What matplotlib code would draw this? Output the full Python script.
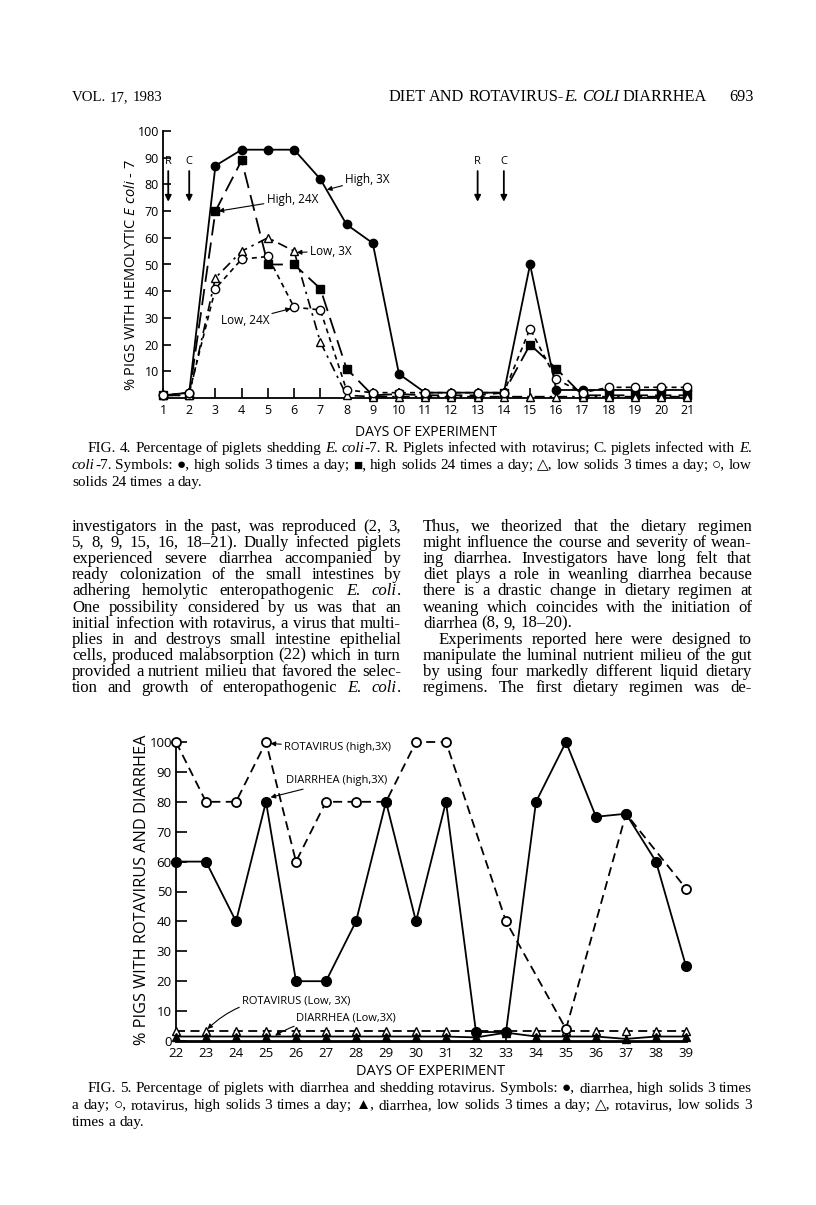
import matplotlib
matplotlib.use('Agg')
import matplotlib.pyplot as plt
from matplotlib.transforms import IdentityTransform

plt.rcParams['mathtext.fontset'] = 'custom'
plt.rcParams['mathtext.rm'] = 'Open Sans'
plt.rcParams['mathtext.it'] = 'Open Sans:italic'

# ---- Fig. 4 data: % pigs shedding hemolytic E. coli-7
days4 = list(range(1, 22))
high3 = [1, 2, 87, 93, 93, 93, 82, 65, 58, 9, 2, 2, 2, 2, 50, 3, 3, 3, 3, 3, 3]
high24 = [1, 1, 70, 89, 50, 50, 41, 11, 1, 1.5, 1, 1, 1, 2, 20, 11, 1, 1, 1, 1, 1]
low3 = [1, 1, 45, 55, 60, 55, 21, 1, 0.5, 0.5, 0.5, 0.5, 0.5, 0.5, 0.5, 0.5, 0.5, 0.5, 0.5, 0.5, 0.5]
low24 = [1, 2, 41, 52, 53, 34, 33, 3, 2, 2, 2, 2, 2, 2, 26, 7, 2, 4, 4, 4, 4]
inf_days = [1.2, 2, 13, 14]
inf_labels = ['R', 'C', 'R', 'C']

# ---- Fig. 5 data: % pigs with rotavirus and diarrhea
days5 = list(range(22, 40))
diar_high = [60, 60, 40, 80, 20, 20, 40, 80, 40, 80, 3, 3, 80, 100, 75, 76, 60, 25]
rota_high = [100, 80, 80, 100, 60, 80, 80, 80, 100, 100, None, 40, None, 4, None, 76, None, 51]
rota_low = [3.3, 3.3, 3.3, 3.3, 3.3, 3.3, 3.3, 3.3, 3.3, 3.3, 3.3, 3.3, 3.3, 3.3, 3.3, 3.3, 3.3, 3.3]
diar_low = [1.5, 1.5, 1.5, 1.5, 1.5, 1.5, 1.5, 1.5, 1.5, 1.5, 1.2, 2.8, 1.5, 1.5, 1.5, 0.7, 1.5, 1.5]

W, H = 816, 1205
fig = plt.figure(figsize=(W / 100, H / 100), dpi=100)
fig.patch.set_facecolor('white')
rend = fig.canvas.get_renderer()
SERIF = ['Liberation Serif', 'DejaVu Serif', 'DejaVu Sans']
SANS = ['Open Sans', 'DejaVu Sans']


def make_words(line, size):
    placed, widths = [], []
    for w in line.split(' '):
        parts, tw = [], 0
        for k, s in enumerate(w.split('*')):
            if not s:
                continue
            t = fig.text(0, 0, s, fontsize=size, family=SERIF,
                         style='italic' if k % 2 else 'normal',
                         transform=IdentityTransform(), va='baseline')
            wd = t.get_window_extent(rend).width
            parts.append((t, wd))
            tw += wd
        placed.append(parts)
        widths.append(tw)
    return placed, widths


def natural(line, size):
    placed, widths = make_words(line, size)
    for parts in placed:
        for t, _ in parts:
            t.remove()
    return sum(widths) + (len(widths) - 1) * size * 0.25 * 100 / 72


def put_line(line, x0, x1, ybase, size, justify=True):
    placed, widths = make_words(line, size)
    gap = size * 0.25 * 100 / 72
    if justify and len(widths) > 1:
        gap = (x1 - x0 - sum(widths)) / (len(widths) - 1)
    x = x0
    for parts, wd in zip(placed, widths):
        for t, pw in parts:
            t.set_position((x, H - ybase))
            x += pw
        x += gap


def fit_size(lines):
    # lines: (text, x0, x1, justify); largest size at which every justified line fits
    return min(10 * (x1 - x0) / natural(ln, 10) for ln, x0, x1, j in lines if j)


def style_axes(ax):
    for s in ['top', 'right']:
        ax.spines[s].set_visible(False)
    for s in ['left', 'bottom']:
        ax.spines[s].set_linewidth(1.3)
    for lab in ax.get_xticklabels() + ax.get_yticklabels():
        lab.set_family(SANS)


# ================= Fig. 4 =================
ax1 = fig.add_axes([163 / W, 1 - 398 / H, 527 / W, 267 / H])
ax1.plot(days4, high3, '-', color='k', lw=1.3, marker='o', ms=6, clip_on=False, zorder=4)
ax1.plot(days4, high24, color='k', lw=1.3, dashes=(9, 4), marker='s', ms=5.5, clip_on=False, zorder=3)
ax1.plot(days4, low3, color='k', lw=1.2, dashes=(6, 3, 1.5, 3), marker='^', ms=5.5,
         mfc='white', mec='k', clip_on=False, zorder=3)
ax1.plot(days4, low24, color='k', lw=1.2, dashes=(3, 2.5), marker='o', ms=6,
         mfc='white', mec='k', clip_on=False, zorder=5)
ax1.set_xlim(1, 21.1)
ax1.set_ylim(0, 100)
ax1.set_xticks(days4)
ax1.set_yticks(range(10, 101, 10))
ax1.tick_params(axis='x', direction='in', length=7, width=1.2, labelsize=9, pad=4)
ax1.tick_params(axis='y', direction='in', length=6, width=1.2, labelsize=9, pad=3)
style_axes(ax1)
ax1.set_xlabel('DAYS OF EXPERIMENT', fontsize=10, family=SANS, labelpad=6)
ax1.set_ylabel(r'% PIGS WITH HEMOLYTIC $\mathit{E\ coli}$ - 7', fontsize=10.5, family=SANS)
ax1.yaxis.set_label_coords(-0.045, 0.46)

for d, lab in zip(inf_days, inf_labels):
    ax1.annotate('', xy=(d, 73.5), xytext=(d, 85),
                 arrowprops=dict(arrowstyle='-|>', color='k', lw=1.3, mutation_scale=9,
                                 shrinkA=0, shrinkB=0))
    ax1.text(d, 86.5, lab, ha='center', va='bottom', fontsize=8, family=SANS)

arrow = dict(arrowstyle='-|>', color='k', lw=0.8, mutation_scale=7, shrinkA=0, shrinkB=0)
ax1.annotate('High, 3X', xy=(7.25, 78), xytext=(7.95, 82), fontsize=8.5, family=SANS,
             va='center', arrowprops=arrow)
ax1.annotate('High, 24X', xy=(3.12, 70), xytext=(4.95, 74.5), fontsize=8.5, family=SANS,
             va='center', arrowprops=arrow)
ax1.annotate('Low, 3X', xy=(6.1, 54.5), xytext=(6.6, 55), fontsize=8.5, family=SANS,
             va='center', arrowprops=arrow)
ax1.annotate('Low, 24X', xy=(5.88, 33.5), xytext=(5.05, 29), fontsize=8.5, family=SANS,
             va='center', ha='right', arrowprops=arrow)

# ================= Fig. 5 =================
ax2 = fig.add_axes([176 / W, 1 - 1041 / H, 510 / W, 299 / H])
rx = [d for d, v in zip(days5, rota_high) if v is not None]
ry = [v for v in rota_high if v is not None]
ax2.plot(days5, rota_low, color='k', lw=1.3, dashes=(5, 3), marker='^', ms=5.5,
         mfc='white', mec='k', clip_on=False, zorder=3)
ax2.plot(days5, diar_low, '-', color='k', lw=1.3, marker='^', ms=6, clip_on=False, zorder=3)
ax2.plot(rx, ry, color='k', lw=1.3, dashes=(5, 3), marker='o', ms=6.5,
         mfc='white', mec='k', mew=1.3, clip_on=False, zorder=4)
ax2.plot(days5, diar_high, '-', color='k', lw=1.3, marker='o', ms=7, clip_on=False, zorder=5)
ax2.set_xlim(22, 39)
ax2.set_ylim(0, 100)
ax2.set_xticks(days5)
ax2.set_yticks(range(0, 101, 10))
ax2.tick_params(axis='x', direction='in', length=7, width=1.2, labelsize=9.5, pad=4)
ax2.tick_params(axis='y', direction='in', length=8, width=1.2, labelsize=9.5, pad=3)
style_axes(ax2)
ax2.spines['bottom'].set_linewidth(2)
ax2.set_xlabel('DAYS OF EXPERIMENT', fontsize=10.5, family=SANS, labelpad=3)
ax2.set_ylabel('% PIGS WITH ROTAVIRUS AND DIARRHEA', fontsize=11.7, family=SANS)
ax2.yaxis.set_label_coords(-0.05, 0.505)

ax2.annotate('ROTAVIRUS (high,3X)', xy=(25.15, 99.5), xytext=(25.6, 98), fontsize=8,
             family=SANS, va='center', arrowprops=arrow)
ax2.annotate('DIARRHEA (high,3X)', xy=(25.15, 81.5), xytext=(25.65, 87), fontsize=8,
             family=SANS, va='center', arrowprops=arrow)
ax2.annotate('ROTAVIRUS (Low, 3X)', xy=(23.05, 4), xytext=(24.2, 13.4), fontsize=8,
             family=SANS, va='center',
             arrowprops=dict(arrow, connectionstyle='arc3,rad=0.25'))
ax2.annotate('DIARRHEA (Low,3X)', xy=(25.3, 1.8), xytext=(26.0, 7.7), fontsize=8,
             family=SANS, va='center',
             arrowprops=dict(arrow, connectionstyle='arc3,rad=0.15'))

# ================= page text =================
hsize = 10 * 318 / natural('DIET AND ROTAVIRUS-*E.* *COLI* DIARRHEA', 10)
put_line('VOL. 17, 1983', 72, 160, 101, hsize * 0.92, justify=False)
put_line('DIET AND ROTAVIRUS-*E.* *COLI* DIARRHEA', 388, 706, 101, hsize, justify=False)
put_line('693', 729, 752, 101, hsize, justify=False)

cap4 = [
    ('FIG. 4. Percentage of piglets shedding *E.* *coli*-7. R. Piglets infected with rotavirus; C. piglets infected with *E.*', 88, 752, True),
    ('*coli*-7. Symbols: \u25cf, high solids 3 times a day; \u25a0, high solids 24 times a day; \u25b3, low solids 3 times a day; \u25cb, low', 72, 752, True),
    ('solids 24 times a day.', 72, 752, False),
]
cap5 = [
    ('FIG. 5. Percentage of piglets with diarrhea and shedding rotavirus. Symbols: \u25cf, diarrhea, high solids 3 times', 88, 752, True),
    ('a day; \u25cb, rotavirus, high solids 3 times a day; \u25b2, diarrhea, low solids 3 times a day; \u25b3, rotavirus, low solids 3', 72, 752, True),
    ('times a day.', 72, 752, False),
]

left_col = [
    'investigators in the past, was reproduced (2, 3,',
    '5, 8, 9, 15, 16, 18\u201321). Dually infected piglets',
    'experienced severe diarrhea accompanied by',
    'ready colonization of the small intestines by',
    'adhering hemolytic enteropathogenic *E.* *coli*.',
    'One possibility considered by us was that an',
    'initial infection with rotavirus, a virus that multi-',
    'plies in and destroys small intestine epithelial',
    'cells, produced malabsorption (22) which in turn',
    'provided a nutrient milieu that favored the selec-',
    'tion and growth of enteropathogenic *E.* *coli*.',
]
right_col = [
    'Thus, we theorized that the dietary regimen',
    'might influence the course and severity of wean-',
    'ing diarrhea. Investigators have long felt that',
    'diet plays a role in weanling diarrhea because',
    'there is a drastic change in dietary regimen at',
    'weaning which coincides with the initiation of',
    'diarrhea (8, 9, 18\u201320).',
    'Experiments reported here were designed to',
    'manipulate the luminal nutrient milieu of the gut',
    'by using four markedly different liquid dietary',
    'regimens. The first dietary regimen was de-',
]
body = [(ln, 72, 401, True) for ln in left_col]
body += [(ln, 439 if i == 7 else 423, 752, i != 6) for i, ln in enumerate(right_col)]

csize = fit_size(cap4 + cap5)
bsize = fit_size(body)
for i, (ln, x0, x1, j) in enumerate(cap4):
    put_line(ln, x0, x1, 452 + 17 * i, csize, j)
for i, (ln, x0, x1, j) in enumerate(cap5):
    put_line(ln, x0, x1, 1092 + 17 * i, csize, j)
for i, (ln, x0, x1, j) in enumerate(body):
    put_line(ln, x0, x1, 531 + 16.1 * (i % 11), bsize, j)

fig.savefig('out.png', dpi=100, facecolor='white')
